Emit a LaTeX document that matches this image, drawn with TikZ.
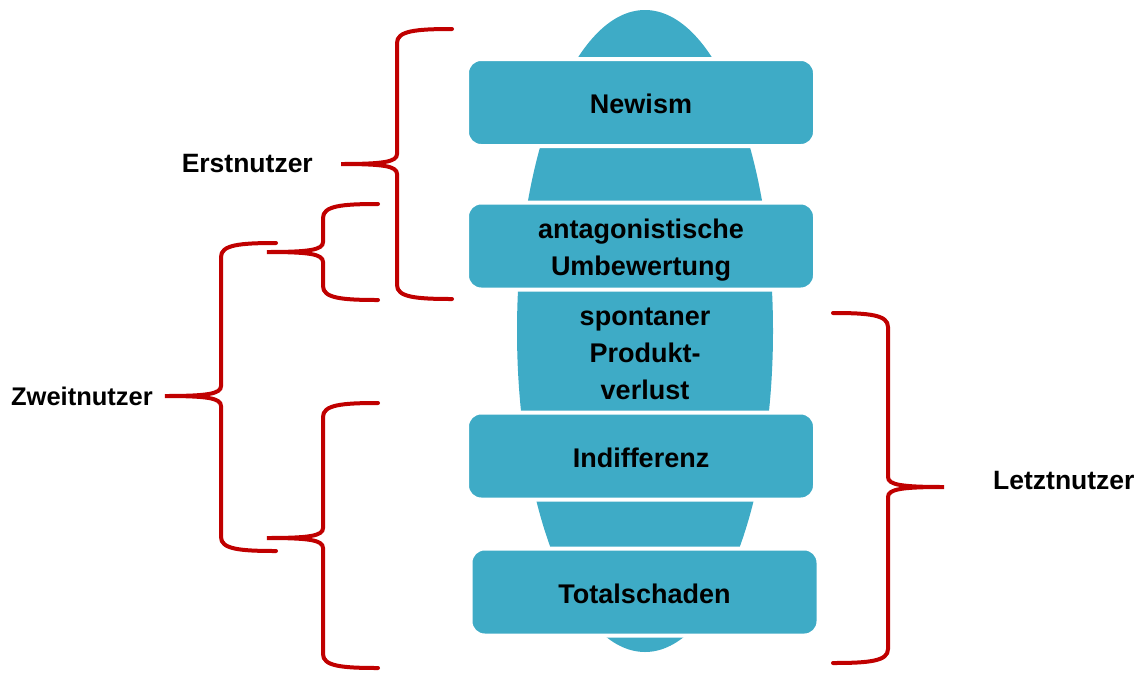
\documentclass[tikz,border=0pt]{standalone}
\usepackage{fontspec}
\setmainfont{Liberation Sans}
\usetikzlibrary{positioning,shapes.geometric}
\definecolor{petrol}{RGB}{62,171,198}
\definecolor{klammerrot}{RGB}{192,0,0}
\begin{document}
\begin{tikzpicture}[x=1pt,y=-1pt,
  stufe/.style={rectangle, rounded corners=14pt, fill=petrol, draw=white,
    line width=4pt, minimum width=348pt, minimum height=87pt},
  schrift/.style={align=center, font=\bfseries\fontsize{27pt}{37pt}\selectfont},
  nutzer/.style={inner sep=0pt, font=\bfseries\fontsize{26.5pt}{31pt}\selectfont},
  pics/klammer/.style 2 args={code={
    \draw[draw=klammerrot, line width=4pt, line cap=round]
      (55,-#1) .. controls (18,-#1) and (0,{-#1+2}) .. (0,{-#1+14})
      -- (0,-10) .. controls (0,-2) and (-14,0) .. (-56,0)
      .. controls (-14,0) and (0,2) .. (0,10)
      -- (0,{#2-14}) .. controls (0,{#2-2}) and (18,#2) .. (55,#2);
    \coordinate (-spitze) at (-56,0);
  }}]
  \useasboundingbox (0,0) rectangle (1141,673);
  \node[ellipse, fill=petrol, minimum width=256pt, minimum height=642pt, inner sep=0pt] (koerper) at (645,331) {};
  \node[stufe] (newism) at (641,102.5) {};
  \node[schrift] (newismtext) at (641,104) {Newism};
  \node[stufe] (umbewertung) at (641,246) {};
  \node[schrift] (umbewertungtext) at (641,250.5) {antagonistische\\Umbewertung};
  \node[schrift] (verlust) at (645,354) {spontaner\\Produkt-\\verlust};
  \node[stufe] (indifferenz) at (641,456) {};
  \node[schrift] (indifferenztext) at (641,458) {Indifferenz};
  \node[stufe] (totalschaden) at (644.5,592) {};
  \node[schrift] (totalschadentext) at (644.5,593.5) {Totalschaden};
  \pic (erst) at (397,164) {klammer={135}{135}};
  \pic (zweitoben) at (323,252) {klammer={48}{48}};
  \pic (zweit) at (221,396) {klammer={153}{155}};
  \pic (zweitunten) at (323,538) {klammer={135}{130}};
  \pic[xscale=-1] (letzt) at (888,487) {klammer={174}{176}};
  \node[nutzer, left=28pt of erst-spitze] (erstnutzer) {Erstnutzer};
  \node[nutzer, left=12pt of zweit-spitze, font=\bfseries\fontsize{25.5pt}{31pt}\selectfont] (zweitnutzer) {Zweitnutzer};
  \node[nutzer, right=49pt of letzt-spitze, yshift=6pt] (letztnutzer) {Letztnutzer};
\end{tikzpicture}
\end{document}
